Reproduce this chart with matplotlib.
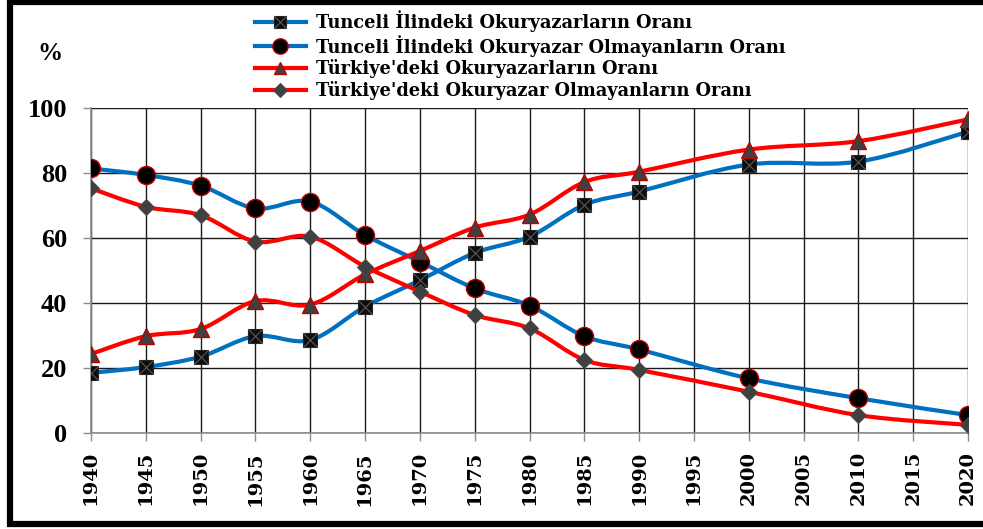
import matplotlib
matplotlib.use("Agg")
import matplotlib.pyplot as plt
import numpy as np
from matplotlib.path import Path
from matplotlib.patches import PathPatch
from matplotlib.lines import Line2D

# Census years
years = [1940, 1945, 1950, 1955, 1960, 1965, 1970, 1975, 1980, 1985, 1990, 2000, 2010, 2020]

# Literacy rates (%)
tunceli_literate = [18.5, 20.3, 23.5, 29.8, 28.6, 38.9, 47.0, 55.4, 60.4, 70.2, 74.3, 82.6, 83.5, 92.7]
tunceli_illiterate = [81.4, 79.4, 76.1, 69.1, 71.2, 60.9, 52.7, 44.5, 39.2, 29.8, 25.7, 16.8, 10.7, 5.5]
turkey_literate = [24.3, 29.8, 32.0, 40.6, 39.5, 48.8, 56.0, 63.2, 67.2, 77.2, 80.4, 87.2, 89.8, 96.5]
turkey_illiterate = [75.3, 69.6, 67.0, 58.9, 60.4, 51.2, 43.5, 36.3, 32.2, 22.5, 19.4, 12.7, 5.5, 2.5]

labels = [
    "Tunceli İlindeki Okuryazarların Oranı",
    "Tunceli İlindeki Okuryazar Olmayanların Oranı",
    "Türkiye'deki Okuryazarların Oranı",
    "Türkiye'deki Okuryazar Olmayanların Oranı",
]

BLUE = "#0070C0"
RED = "#FF0000"
DARK = "#404040"


def smooth_path(xs, ys):
    """Bezier path through the points, like Excel's smoothed line."""
    pts = np.column_stack([xs, ys]).astype(float)
    n = len(pts)
    verts = [pts[0]]
    codes = [Path.MOVETO]
    for i in range(n - 1):
        p0 = pts[max(i - 1, 0)]
        p1 = pts[i]
        p2 = pts[i + 1]
        p3 = pts[min(i + 2, n - 1)]
        c1 = p1 + (p2 - p0) / 6.0
        c2 = p2 - (p3 - p1) / 6.0
        verts += [c1, c2, p2]
        codes += [Path.CURVE4] * 3
    return Path(verts, codes)


fig = plt.figure(figsize=(9.83, 5.29), dpi=100)
ax = fig.add_axes([91 / 983, 1 - 433 / 529, (968 - 91) / 983, (433 - 108) / 529])

series = [
    (tunceli_literate, BLUE),
    (tunceli_illiterate, BLUE),
    (turkey_literate, RED),
    (turkey_illiterate, RED),
]
for vals, col in series:
    ax.add_patch(PathPatch(smooth_path(years, vals), fill=False, edgecolor=col,
                           lw=3, capstyle="round", joinstyle="round", zorder=3))

# markers
sq_kw = dict(ls="none", marker="s", ms=10.5, mfc="#0d0d0d", mec="#262626", mew=0.8)
x_kw = dict(ls="none", marker="x", ms=9.5, mec="#5a5a5a", mew=0.8)
ci_kw = dict(ls="none", marker="o", ms=13, mfc="black", mec="#C00000", mew=1.0)
tr_kw = dict(ls="none", marker="^", ms=11, mfc=DARK, mec="#C00000", mew=1.0)
di_kw = dict(ls="none", marker="D", ms=8.5, mfc=DARK, mec="#4a4a4a", mew=0.8)

ax.plot(years, tunceli_literate, zorder=5, **sq_kw)
ax.plot(years, tunceli_literate, zorder=6, **x_kw)
ax.plot(years, tunceli_illiterate, zorder=5, **ci_kw)
ax.plot(years, turkey_literate, zorder=5, **tr_kw)
ax.plot(years, turkey_illiterate, zorder=5, **di_kw)

ax.set_xlim(1940, 2020)
ax.set_ylim(0, 100)
ax.set_xticks(range(1940, 2021, 5))
ax.set_yticks(range(0, 101, 20))
ax.grid(True, color="#1a1a1a", lw=1.0)
ax.set_axisbelow(True)
for s in ["top", "right"]:
    ax.spines[s].set_visible(False)
for s in ["left", "bottom"]:
    ax.spines[s].set_color("#8c8c8c")
    ax.spines[s].set_linewidth(1.2)
    ax.spines[s].set_zorder(2.5)

ax.tick_params(axis="y", direction="out", length=6, width=1, color="#8c8c8c", pad=11)
ax.tick_params(axis="x", direction="out", length=6, width=1, color="#8c8c8c", pad=7)
for t in ax.get_yticklabels():
    t.set_fontfamily("Liberation Serif")
    t.set_fontweight("bold")
    t.set_fontsize(19)
for t in ax.get_xticklabels():
    t.set_fontfamily("DejaVu Serif")
    t.set_fontweight("bold")
    t.set_fontsize(14)
    t.set_rotation(90)

fig.text(50 / 983, 1 - 53 / 529, "%", ha="center", va="center",
         fontfamily="Liberation Serif", fontweight="bold", fontsize=18)

# legend
h1 = (Line2D([], [], color=BLUE, lw=3, **{k: v for k, v in sq_kw.items() if k != "ls"}),
      Line2D([], [], **x_kw))
h2 = Line2D([], [], color=BLUE, lw=3, **{k: v for k, v in ci_kw.items() if k != "ls"})
h3 = Line2D([], [], color=RED, lw=3, **{k: v for k, v in tr_kw.items() if k != "ls"})
h4 = Line2D([], [], color=RED, lw=3, **{k: v for k, v in di_kw.items() if k != "ls"})
fig.legend([h1, h2, h3, h4], labels, loc="upper left",
           bbox_to_anchor=(255 / 983, 1 - 10 / 529), frameon=False,
           prop={"family": "DejaVu Serif", "weight": "bold", "size": 12.8},
           handlelength=2.85, handletextpad=0.6, labelspacing=0.16,
           borderpad=0, borderaxespad=0, numpoints=1, markerscale=0.85)

# outer frame: top, left and bottom edges only
frame_x = [1.02, 10 / 983, 10 / 983, 1.02]
frame_y = [1 - 1.5 / 529, 1 - 1.5 / 529, 1 - 524 / 529, 1 - 524 / 529]
fig.add_artist(Line2D(frame_x, frame_y, transform=fig.transFigure,
                      color="black", lw=4.5, solid_joinstyle="miter"))

fig.savefig("out.png", dpi=100)
